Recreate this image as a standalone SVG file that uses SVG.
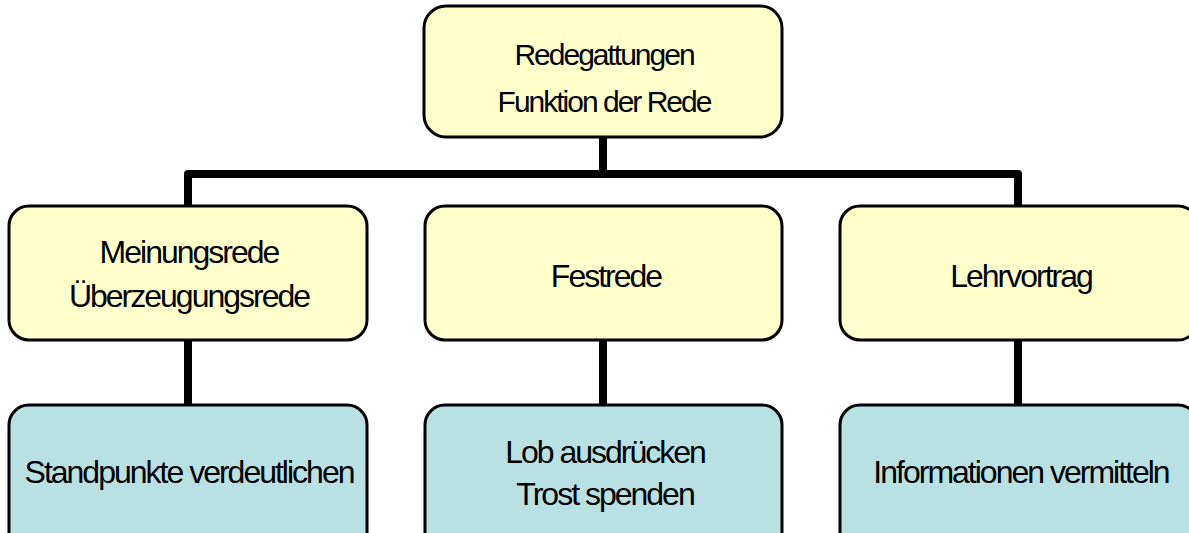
<svg xmlns="http://www.w3.org/2000/svg" width="1189" height="533" viewBox="0 0 1189 533">
<style>
.box{stroke:#000;stroke-width:3}
.y{fill:#FFFFCC}
.b{fill:#B9E0E3}
.t{font-family:"Liberation Sans",Arial,sans-serif;font-size:32px;letter-spacing:-2px;fill:#000;text-anchor:middle}
.t28{font-size:30px;letter-spacing:-2px}
.c{fill:none;stroke:#000;stroke-width:8;stroke-linejoin:round}
</style>
<rect width="1189" height="533" fill="#fff"/>
<g id="connectors">
<path class="c" d="M603 137V174M188 206V174H1018V206"/>
<path class="c" d="M188 340V405M603 340V405M1018 340V405"/>
</g>
<g id="root">
<rect class="box y" x="424" y="6" width="358" height="131" rx="22"/>
<text class="t t28" x="604" y="65">Redegattungen</text>
<text class="t t28" x="604" y="112">Funktion der Rede</text>
</g>
<g id="meinungsrede">
<rect class="box y" x="9" y="206" width="358" height="134" rx="20"/>
<text class="t" x="189" y="263">Meinungsrede</text>
<text class="t" x="189" y="307">Überzeugungsrede</text>
</g>
<g id="festrede">
<rect class="box y" x="425" y="206" width="357" height="134" rx="20"/>
<text class="t" x="606" y="287">Festrede</text>
</g>
<g id="lehrvortrag">
<rect class="box y" x="840" y="206" width="358" height="134" rx="20"/>
<text class="t" x="1021" y="287">Lehrvortrag</text>
</g>
<g id="standpunkte">
<rect class="box b" x="9" y="405" width="358" height="150" rx="20"/>
<text class="t" x="189" y="483">Standpunkte verdeutlichen</text>
</g>
<g id="lob">
<rect class="box b" x="425" y="405" width="357" height="150" rx="20"/>
<text class="t" x="605" y="463">Lob ausdrücken</text>
<text class="t" x="605" y="505">Trost spenden</text>
</g>
<g id="informationen">
<rect class="box b" x="840" y="405" width="358" height="150" rx="20"/>
<text class="t" x="1021" y="483">Informationen vermitteln</text>
</g>
</svg>
